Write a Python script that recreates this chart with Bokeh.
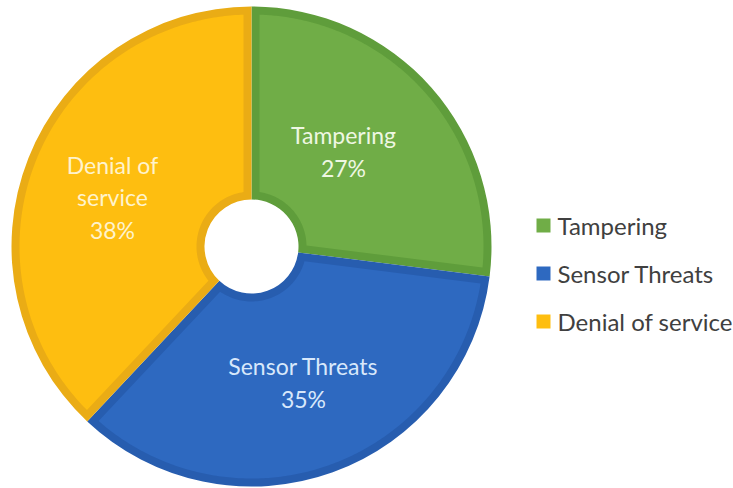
import numpy as np
from bokeh.plotting import figure
from bokeh.models import Range1d
from bokeh.embed import file_html
from bokeh.resources import INLINE
from bokeh.core.properties import value

# ---- data ----
categories = ["Tampering", "Sensor Threats", "Denial of service"]
shares = [27, 35, 38]
slice_labels = ["Tampering\n27%", "Sensor Threats\n35%", "Denial of\nservice\n38%"]

# ---- styles ----
fill_colors = ["#70AD47", "#2E69C0", "#FEBE10"]
edge_colors = ["#5F9D3B", "#275DAF", "#EAAC15"]
label_colors = ["#EEF7E2", "#D8E8FB", "#FFF3CC"]
label_pos_px = [(343, 151), (303, 382), (112, 197)]

W, H = 733, 488
p = figure(width=W, height=H, output_backend="svg", toolbar_location=None,
           x_range=Range1d(0, W), y_range=Range1d(0, H), min_border=0)
p.axis.visible = False
p.grid.visible = False
p.outline_line_color = None
p.background_fill_color = "white"
p.border_fill_color = "white"

cx, cy = 251, H - 246
R, r0, d = 240, 47, 8

total = float(sum(shares))
start = np.pi / 2
for i, s in enumerate(shares):
    sweep = 2 * np.pi * s / total
    hi = start
    lo = start - sweep
    start = lo
    # darker full wedge (border)
    p.annular_wedge(x=cx, y=cy, inner_radius=r0, outer_radius=R,
                    start_angle=lo, end_angle=hi,
                    fill_color=edge_colors[i], line_color=None)
    # lighter inset
    ro = R - d
    ri = r0 + d
    ao = np.arcsin(d / ro)
    ai = np.arcsin(d / ri)
    t_out = np.linspace(hi - ao, lo + ao, 200)
    t_in = np.linspace(lo + ai, hi - ai, 60)
    xs = np.concatenate([cx + ro * np.cos(t_out), cx + ri * np.cos(t_in)])
    ys = np.concatenate([cy + ro * np.sin(t_out), cy + ri * np.sin(t_in)])
    p.patch(xs, ys, fill_color=fill_colors[i], line_color=None)

# slice labels
for i, lab in enumerate(slice_labels):
    lx, ly = label_pos_px[i]
    p.text(x=[lx], y=[H - ly], text=[lab], text_align="center",
           text_baseline="middle", text_font=value("Lato"),
           text_font_size="23px", text_color=label_colors[i],
           text_line_height=1.15)

# legend
leg_x, leg_y0, leg_dy = 543, 225, 48
for i, c in enumerate(categories):
    yy = H - (leg_y0 + i * leg_dy)
    p.rect(x=[leg_x], y=[yy], width=14, height=14,
           fill_color=fill_colors[i], line_color=None)
    p.text(x=[leg_x + 14], y=[yy], text=[c], text_align="left",
           text_baseline="middle", text_font=value("Lato"),
           text_font_size="24px", text_color="#404040")

open("out.html", "w").write(file_html(p, INLINE))
